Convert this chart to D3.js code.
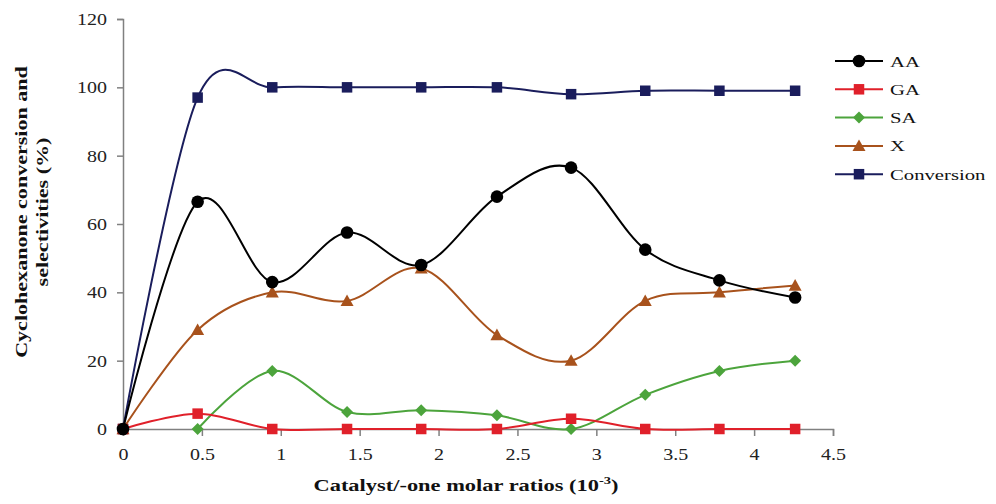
<!DOCTYPE html>
<html>
<head>
<meta charset="utf-8">
<script src="https://cdn.jsdelivr.net/npm/d3@7"></script>
<style>
  body { margin: 0; background: #fff; }
  svg { display: block; font-family: "Liberation Serif", "DejaVu Serif", serif; }
</style>
</head>
<body>
<div id="chart"></div>
<script>
// x positions (catalyst/-one molar ratio, 10^-3)
const ratios = [0, 0.473, 0.946, 1.42, 1.89, 2.37, 2.84, 3.31, 3.78, 4.26];
const aaValues = [0, 66.5, 43, 57.5, 48, 68, 76.5, 52.5, 43.5, 38.5];
const gaValues = [0, 4.5, 0, 0, 0, 0, 3, 0, 0, 0];
const saValues = [null, 0, 17, 5, 5.5, 4, 0, 10, 17, 20];
const xValues = [0, 29, 40, 37.5, 47, 27.5, 20, 37.5, 40, 42];
const convValues = [0, 97, 100, 100, 100, 100, 98, 99, 99, 99];
const xTicks = [0, 0.5, 1, 1.5, 2, 2.5, 3, 3.5, 4, 4.5];
const yTicks = [0, 20, 40, 60, 80, 100, 120];

const series = [
  { name: 'AA', values: aaValues, color: '#000000', marker: 'circle' },
  { name: 'GA', values: gaValues, color: '#e0202a', marker: 'square' },
  { name: 'SA', values: saValues, color: '#4ca43c', marker: 'diamond' },
  { name: 'X', values: xValues, color: '#a8521c', marker: 'triangle' },
  { name: 'Conversion', values: convValues, color: '#1a1d5c', marker: 'square' }
];

const width = 996, height = 504;
const margin = { top: 19, right: 163, bottom: 75, left: 123 };
const innerWidth = width - margin.left - margin.right;
const innerHeight = height - margin.top - margin.bottom;
const stretch = 1.25; // the original text is drawn wide

const svg = d3.select('#chart').append('svg')
  .attr('width', width).attr('height', height);
const g = svg.append('g').attr('transform', `translate(${margin.left},${margin.top})`);

const x = d3.scaleLinear().domain([0, 4.5]).range([0, innerWidth]);
const y = d3.scaleLinear().domain([0, 120]).range([innerHeight, 0]);

// Axes
g.append('g')
  .attr('transform', `translate(0,${innerHeight})`)
  .call(d3.axisBottom(x).tickValues(xTicks).tickSize(7).tickFormat(d3.format('')))
  .call(a => a.select('.domain').attr('stroke', '#808080').attr('stroke-width', 1.5))
  .call(a => a.selectAll('line').attr('stroke', '#808080').attr('stroke-width', 1.5))
  .call(a => a.selectAll('text')
    .attr('y', 0).attr('dy', 0)
    .attr('transform', `translate(0,31) scale(${stretch},1)`)
    .attr('fill', '#222').attr('font-size', 16).attr('font-family', 'Liberation Serif'));

g.append('g')
  .call(d3.axisLeft(y).tickValues(yTicks).tickSize(6))
  .call(a => a.select('.domain').attr('stroke', '#808080').attr('stroke-width', 1.5))
  .call(a => a.selectAll('line').attr('stroke', '#808080').attr('stroke-width', 1.5))
  .call(a => a.selectAll('text')
    .attr('x', 0).attr('dy', '0.34em')
    .attr('transform', `translate(-16,0) scale(${stretch},1)`)
    .attr('fill', '#222').attr('font-size', 16).attr('font-family', 'Liberation Serif'));

// Axis titles
svg.append('text')
  .attr('transform', `translate(466,491) scale(1.32,1)`)
  .attr('text-anchor', 'middle').attr('font-size', 17).attr('font-weight', 'bold')
  .attr('fill', '#111')
  .html('Catalyst/-one molar ratios (10<tspan dy="-7" font-size="11">-3</tspan><tspan dy="7">)</tspan>');

const yTitle = svg.append('text')
  .attr('transform', `translate(27,212) rotate(-90) scale(1.38,1)`)
  .attr('text-anchor', 'middle').attr('font-size', 16).attr('font-weight', 'bold')
  .attr('fill', '#111');
yTitle.append('tspan').attr('x', 0).attr('y', 0).text('Cyclohexanone conversion and');
yTitle.append('tspan').attr('x', 0).attr('y', 21).text('selectivities (%)');

// Markers
function drawMarker(sel, type, color, cx, cy) {
  if (type === 'circle') {
    sel.append('circle').attr('cx', cx).attr('cy', cy).attr('r', 6.3).attr('fill', color);
  } else if (type === 'square') {
    const s = 10.5;
    sel.append('rect').attr('x', cx - s / 2).attr('y', cy - s / 2).attr('width', s).attr('height', s).attr('fill', color);
  } else if (type === 'diamond') {
    const s = 6;
    sel.append('path').attr('d', `M${cx},${cy - s}L${cx + s},${cy}L${cx},${cy + s}L${cx - s},${cy}Z`).attr('fill', color);
  } else if (type === 'triangle') {
    const s = 6.5;
    sel.append('path').attr('d', `M${cx},${cy - s}L${cx + s},${cy + s * 0.8}L${cx - s},${cy + s * 0.8}Z`).attr('fill', color);
  }
}

const line = d3.line()
  .x(d => x(d.r)).y(d => y(d.v))
  .curve(d3.curveCardinal.tension(0));

// Draw series in reverse so AA sits on top
[...series].reverse().forEach(s => {
  const pts = ratios.map((r, i) => ({ r, v: s.values[i] })).filter(d => d.v !== null);
  g.append('path')
    .datum(pts)
    .attr('d', line)
    .attr('fill', 'none')
    .attr('stroke', s.color)
    .attr('stroke-width', 2);
  const mg = g.append('g');
  pts.forEach(d => drawMarker(mg, s.marker, s.color, x(d.r), y(d.v)));
});

// Legend
const legend = svg.append('g').attr('transform', 'translate(835,61)');
series.forEach((s, i) => {
  const row = legend.append('g').attr('transform', `translate(0,${i * 28.3})`);
  row.append('line').attr('x1', 0).attr('x2', 48).attr('y1', 0).attr('y2', 0)
    .attr('stroke', s.color).attr('stroke-width', 2);
  drawMarker(row, s.marker, s.color, 24, 0);
  row.append('text')
    .attr('transform', `translate(55,5.5) scale(1.38,1)`)
    .attr('font-size', 15).attr('fill', '#111').text(s.name);
});
</script>
</body>
</html>
